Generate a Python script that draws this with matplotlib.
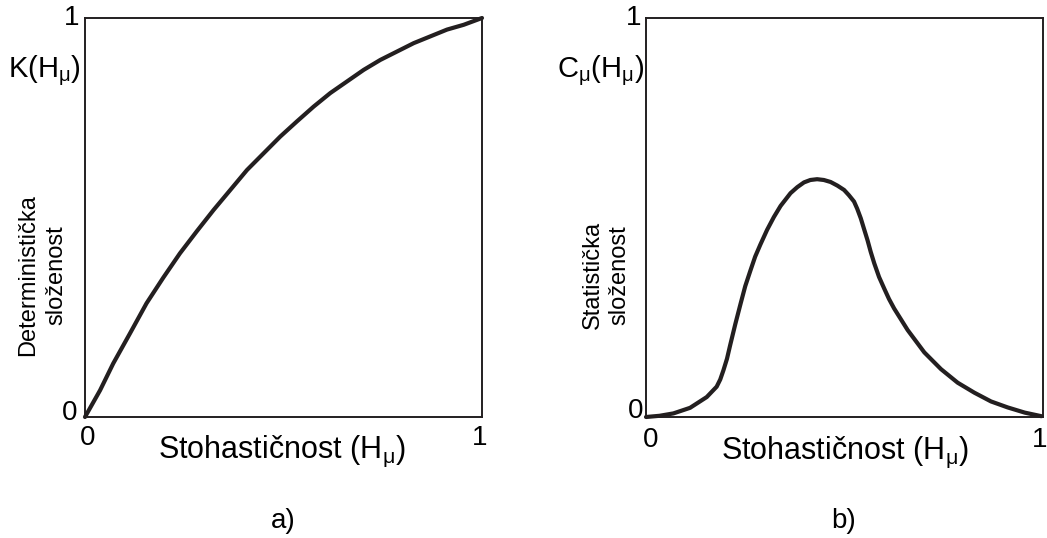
import numpy as np
import matplotlib
matplotlib.use("Agg")
import matplotlib.pyplot as plt

plt.rcParams['font.family'] = ['Liberation Sans', 'DejaVu Sans']
plt.rcParams['mathtext.fontset'] = 'custom'
plt.rcParams['mathtext.rm'] = 'Liberation Sans'
plt.rcParams['mathtext.it'] = 'Liberation Sans'
plt.rcParams['mathtext.bf'] = 'Liberation Sans:bold'

# a) deterministic complexity K(H)
h_det = [0.0, 0.038, 0.071, 0.113, 0.155, 0.197, 0.239, 0.282, 0.324, 0.366, 0.408,
         0.450, 0.492, 0.534, 0.576, 0.618, 0.660, 0.702, 0.744, 0.786, 0.828, 0.870,
         0.912, 0.954, 1.0]
k_det = [0.0, 0.067, 0.134, 0.209, 0.285, 0.349, 0.410, 0.466, 0.519, 0.569, 0.619,
         0.661, 0.703, 0.741, 0.778, 0.812, 0.841, 0.870, 0.895, 0.916, 0.937, 0.954,
         0.971, 0.983, 1.0]

# b) statistical complexity C(H)
h_stat = [0.0, 0.034, 0.069, 0.111, 0.153, 0.178, 0.187, 0.195, 0.204, 0.212, 0.225,
          0.238, 0.250, 0.263, 0.275, 0.288, 0.305, 0.322, 0.339, 0.364, 0.381, 0.398,
          0.414, 0.431, 0.448, 0.465, 0.482, 0.499, 0.511, 0.524, 0.532, 0.541, 0.549,
          0.558, 0.566, 0.575, 0.587, 0.600, 0.612, 0.625, 0.642, 0.659, 0.701, 0.743,
          0.785, 0.827, 0.869, 0.911, 0.954, 0.996]
c_stat = [0.0, 0.003, 0.009, 0.023, 0.050, 0.076, 0.094, 0.117, 0.146, 0.180, 0.233,
          0.283, 0.328, 0.367, 0.402, 0.432, 0.469, 0.501, 0.529, 0.561, 0.576, 0.588,
          0.594, 0.596, 0.594, 0.589, 0.580, 0.569, 0.556, 0.540, 0.522, 0.498, 0.472,
          0.443, 0.414, 0.385, 0.351, 0.322, 0.296, 0.272, 0.245, 0.218, 0.162, 0.120,
          0.086, 0.061, 0.039, 0.024, 0.011, 0.002]

W, H = 1047, 538
fig = plt.figure(figsize=(W / 100, H / 100), dpi=100)

ink = '#231f20'
fs = 20

def px(x, y):
    return x / W, 1 - y / H

def make_ax(x0, y0, x1, y1):
    ax = fig.add_axes([x0 / W, 1 - y1 / H, (x1 - x0) / W, (y1 - y0) / H])
    ax.set_xlim(0, 1)
    ax.set_ylim(0, 1)
    ax.set_xticks([])
    ax.set_yticks([])
    for s in ax.spines.values():
        s.set_linewidth(1.4)
        s.set_color(ink)
    return ax

ax1 = make_ax(85, 18, 482, 417)
ax1.plot(h_det, k_det, color=ink, lw=3, clip_on=False,
         solid_capstyle='round', solid_joinstyle='round')

ax2 = make_ax(646, 18, 1043, 417)
ax2.plot(h_stat, c_stat, color=ink, lw=3, clip_on=False,
         solid_capstyle='round', solid_joinstyle='round')

# labels panel a
fig.text(*px(79, 18), '1', fontsize=fs, ha='right', va='center')
fig.text(*px(81, 71), r'K(H$_{\mu}$)', fontsize=fs + 1, ha='right', va='center')
fig.text(*px(77, 413), '0', fontsize=fs, ha='right', va='center')
fig.text(*px(88, 438), '0', fontsize=fs, ha='center', va='center')
fig.text(*px(480, 438), '1', fontsize=fs, ha='center', va='center')
fig.text(*px(282, 451), r'Stohastičnost (H$_{\mu}$)', fontsize=fs + 2, ha='center', va='center')
fig.text(*px(42, 275), 'Deterministička\nsloženost', fontsize=17, rotation=90,
         ha='center', va='center', linespacing=1.35)
fig.text(*px(283, 521), 'a)', fontsize=fs, ha='center', va='center')

# labels panel b
fig.text(*px(641, 18), '1', fontsize=fs, ha='right', va='center')
fig.text(*px(644, 71), r'C$_{\mu}$(H$_{\mu}$)', fontsize=fs + 1, ha='right', va='center')
fig.text(*px(643, 411), '0', fontsize=fs, ha='right', va='center')
fig.text(*px(651, 440), '0', fontsize=fs, ha='center', va='center')
fig.text(*px(1047, 440), '1', fontsize=fs, ha='right', va='center')
fig.text(*px(845, 452), r'Stohastičnost (H$_{\mu}$)', fontsize=fs + 2, ha='center', va='center')
fig.text(*px(606, 275), 'Statistička\nsloženost', fontsize=17, rotation=90,
         ha='center', va='center', linespacing=1.3)
fig.text(*px(844, 521), 'b)', fontsize=fs, ha='center', va='center')

fig.savefig('out.png', dpi=100)
